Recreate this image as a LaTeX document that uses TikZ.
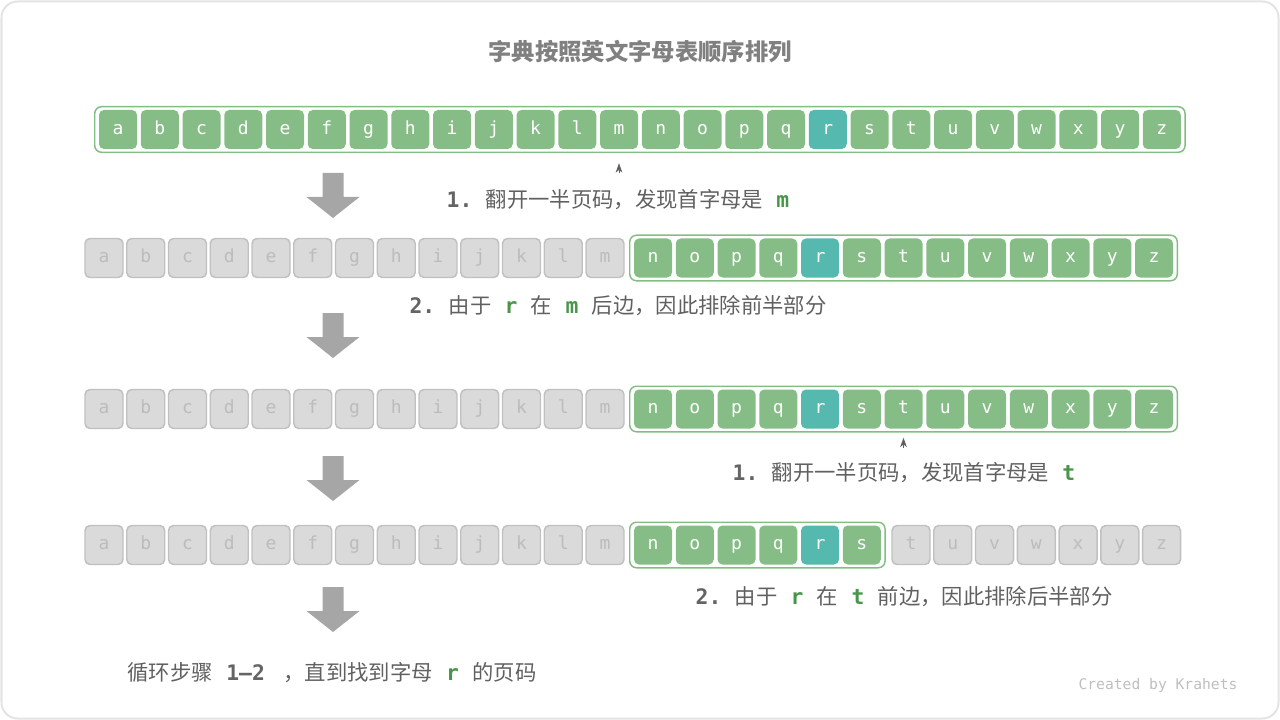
\documentclass[tikz,border=0pt]{standalone}
\usepackage{fontspec}
\setmainfont{Noto Sans CJK SC}
\newfontfamily\mono{DejaVu Sans Mono}
\usepackage{xcolor}
\usepackage{tikz}
\usetikzlibrary{arrows.meta, calc, fit}

\definecolor{cellgreen}{RGB}{134,188,134}
\definecolor{cellteal}{RGB}{85,185,175}
\definecolor{cellgrey}{RGB}{218,218,218}
\definecolor{cellborder}{RGB}{192,192,192}
\definecolor{celltext}{RGB}{188,188,188}
\definecolor{boxgreen}{RGB}{130,190,130}
\definecolor{notegrey}{RGB}{96,96,96}
\definecolor{numgrey}{RGB}{100,100,100}
\definecolor{keygreen}{RGB}{72,150,72}
\definecolor{arrowgrey}{RGB}{166,166,166}
\definecolor{titlegrey}{RGB}{128,128,128}
\definecolor{footgrey}{RGB}{190,190,190}
\definecolor{framegrey}{RGB}{228,228,228}

\newcommand{\stepnum}[1]{{\mono\bfseries\color{numgrey}#1}}
\newcommand{\letterkey}[1]{{\mono\bfseries\color{keygreen}#1}}
\newcommand{\gap}{\hspace{10pt}}

\begin{document}
\begin{tikzpicture}[x=0.75pt, y=-0.75pt,
    cell/.style={rounded corners=3.75pt, minimum width=28.5pt, minimum height=29.25pt,
        inner sep=0pt, text height=10pt, text depth=3pt,
        font=\mono\fontsize{13.5}{14}\selectfont, text=white},
    greycell/.style={cell, fill=cellgrey, draw=cellborder, line width=1.1pt, text=celltext},
    groupbox/.style={draw=boxgreen, line width=1.1pt, rounded corners=5pt, inner xsep=3pt, inner ysep=2.25pt},
    note/.style={text=notegrey, font=\fontsize{16}{19}\selectfont, inner sep=0pt},
    pointer/.style={-{Stealth[length=7pt, width=5pt, inset=2pt]}, draw=notegrey, line width=0.6pt}]
    \useasboundingbox (0,0) rectangle (1280,720);
    \draw[framegrey, line width=1.5pt, rounded corners=12pt] (1.5,1.5) rectangle (1278.5,718.5);

    \node[font=\bfseries\fontsize{17.5}{20}\selectfont, text=titlegrey] (title) at (640,52) {字典按照英文字母表顺序排列};

    % whole alphabet
    \foreach \l [count=\i from 0] in {a,...,z}{
        \ifnum\i=17 \def\cellfill{cellteal}\else\def\cellfill{cellgreen}\fi
        \node[cell, fill=\cellfill] (\l1) at (118+\i*41.75,129.5) {\l};
    }
    \node[groupbox, fit=(a1)(z1)] (keep1) {};

    % first half dropped
    \foreach \row/\y in {2/258, 3/409}{
        \foreach \l [count=\i from 0] in {a,...,m}
            \node[greycell] (\l\row) at (104+\i*41.75,\y) {\l};
        \foreach \l [count=\i from 0] in {n,...,z}{
            \ifnum\i=4 \def\cellfill{cellteal}\else\def\cellfill{cellgreen}\fi
            \node[cell, fill=\cellfill] (\l\row) at (653+\i*41.75,\y) {\l};
        }
        \node[groupbox, fit=(n\row)(z\row)] (keep\row) {};
    }

    % second half dropped
    \foreach \l [count=\i from 0] in {a,...,m}
        \node[greycell] (\l4) at (104+\i*41.75,545) {\l};
    \foreach \l [count=\i from 0] in {n,...,s}{
        \ifnum\i=4 \def\cellfill{cellteal}\else\def\cellfill{cellgreen}\fi
        \node[cell, fill=\cellfill] (\l4) at (653+\i*41.75,545) {\l};
    }
    \foreach \l [count=\i from 0] in {t,...,z}
        \node[greycell] (\l4) at (911+\i*41.75,545) {\l};
    \node[groupbox, fit=(n4)(s4)] (keep4) {};

    % big arrows
    \foreach \y in {173,313,456,587}
        \fill[arrowgrey] (322.5,\y) -- (343.5,\y) -- (343.5,\y+24) -- (359.5,\y+24)
            -- (333,\y+45) -- (306.5,\y+24) -- (322.5,\y+24) -- cycle;

    % page pointers
    \coordinate (seek1) at ($(m1.south)+(0,24)$);
    \draw[pointer] (seek1) -- ++(0,-10);
    \coordinate (seek3) at ($(t3.south)+(0,19)$);
    \draw[pointer] (seek3) -- ++(0,-10);

    \node[note] (find1) at (618,200) {\stepnum{1.}\gap 翻开一半页码，发现首字母是\gap\letterkey{m}};
    \node[note] (drop1) at (618,306) {\stepnum{2.}\gap 由于\gap\letterkey{r}\gap 在\gap\letterkey{m}\gap 后边，因此排除前半部分};
    \node[note] (find2) at (904,473) {\stepnum{1.}\gap 翻开一半页码，发现首字母是\gap\letterkey{t}};
    \node[note] (drop2) at (904,597) {\stepnum{2.}\gap 由于\gap\letterkey{r}\gap 在\gap\letterkey{t}\gap 前边，因此排除后半部分};
    \node[note] (loop) at (332,673) {循环步骤\gap\stepnum{1–2}\gap\hspace{4pt}，直到找到字母\gap\letterkey{r}\gap 的页码};

    \node[font=\mono\fontsize{11}{12}\selectfont, text=footgrey] (credit) at (1158,685) {Created by Krahets};
\end{tikzpicture}
\end{document}
